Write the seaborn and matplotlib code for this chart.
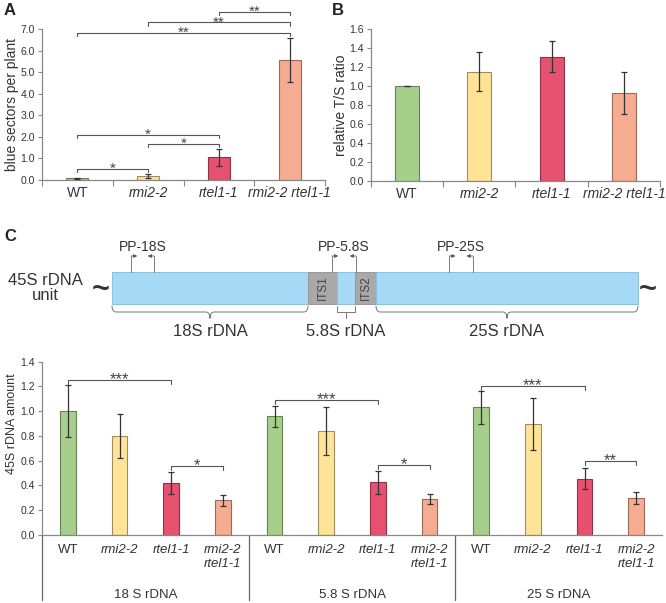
import numpy as np
import pandas as pd
import matplotlib.pyplot as plt
import matplotlib.colors as mcolors
import matplotlib.transforms as mtransforms
from matplotlib.patches import Rectangle, PathPatch
from matplotlib.path import Path
from matplotlib.ticker import FormatStrFormatter
import seaborn as sns

sns.set_style("white")
plt.rcParams["font.family"] = ["Liberation Sans", "DejaVu Sans"]
plt.rcParams["text.color"] = "#333333"
plt.rcParams["axes.labelcolor"] = "#333333"
plt.rcParams["xtick.color"] = "#333333"
plt.rcParams["ytick.color"] = "#333333"

# --------------------------------------
# DATA
# --------------------------------------
genotypes = ["WT", "rmi2-2", "rtel1-1", "rmi2-2 rtel1-1"]
geno_colors = ["#A6CF8B", "#FFE498", "#E5516E", "#F5AC91"]

# A: blue sectors per plant
sectors_mean = [0.07, 0.17, 1.05, 5.58]
sectors_err = [0.04, 0.10, 0.41, 1.02]
sectors_sig = [(0, 1, "*", 0.51), (1, 2, "*", 1.69), (0, 2, "*", 2.10),
               (0, 3, "**", 6.82), (1, 3, "**", 7.31), (2, 3, "**", 7.80)]

# B: relative T/S ratio
ts_mean = [1.00, 1.15, 1.31, 0.93]
ts_err = [0.005, 0.205, 0.165, 0.22]

# C: 45S rDNA amount
regions = ["18 S rDNA", "5.8 S rDNA", "25 S rDNA"]
rdna_18s_mean = [1.00, 0.80, 0.42, 0.28]
rdna_18s_err = [0.21, 0.18, 0.085, 0.047]
rdna_58s_mean = [0.96, 0.84, 0.425, 0.29]
rdna_58s_err = [0.085, 0.19, 0.095, 0.04]
rdna_25s_mean = [1.03, 0.90, 0.455, 0.30]
rdna_25s_err = [0.13, 0.21, 0.083, 0.046]
rdna_sig = [(0, 2, "***", 1.252), (2, 3, "*", 0.56),
            (4, 6, "***", 1.09), (6, 7, "*", 0.565),
            (8, 10, "***", 1.206), (10, 11, "**", 0.595)]

# 45S unit scheme (fraction of unit length)
unit_segments = [("18S", 0.0, 0.3726), ("ITS1", 0.3726, 0.4278),
                 ("5.8S", 0.4278, 0.4620), ("ITS2", 0.4620, 0.5019),
                 ("25S", 0.5019, 1.0)]
primers = [("PP-18S", 0.036, 0.080), ("PP-5.8S", 0.418, 0.464),
           ("PP-25S", 0.641, 0.686)]

palette = dict(zip(genotypes, geno_colors))
GREY = "#888888"
DARK = "#333333"


def draw_bars(ax, df, xcol, order, width, capsize):
    sns.barplot(data=df, x=xcol, y="mean", hue="genotype", order=order,
                hue_order=genotypes, palette=palette, dodge=False, width=width,
                errorbar=None, legend=False, linewidth=0.8, ax=ax, saturation=1)
    for p in ax.patches:
        fc = np.array(mcolors.to_rgb(p.get_facecolor()))
        p.set_edgecolor(fc * 0.62)
    pos = [order.index(v) for v in df[xcol]]
    ax.errorbar(pos, df["mean"], yerr=df["err"], fmt="none", ecolor=DARK,
                elinewidth=0.9, capsize=capsize, capthick=0.9, zorder=5)
    ax.set_xlabel("")
    for s in ["top", "right"]:
        ax.spines[s].set_visible(False)
    for s in ["left", "bottom"]:
        ax.spines[s].set_color(GREY)
        ax.spines[s].set_linewidth(0.9)


def bracket(ax, x1, x2, y, h, label, fs):
    ax.plot([x1, x1, x2, x2], [y - h, y, y, y - h], color="#555555",
            lw=0.8, clip_on=False)
    ax.annotate(label, xy=((x1 + x2) / 2, y), xytext=(0, -3),
                textcoords="offset points", ha="center", va="baseline",
                fontsize=fs, color="#444444", annotation_clip=False)


def italic_labels(ax):
    for lbl in ax.get_xticklabels():
        if lbl.get_text() != "WT":
            lbl.set_fontstyle("italic")


fig = plt.figure(figsize=(6.66, 6.03), dpi=100)

# --------------------------------------
# A
# --------------------------------------
axA = fig.add_axes([0.0631, 0.7015, 0.4249, 0.2504])
dfA = pd.DataFrame({"genotype": genotypes, "mean": sectors_mean, "err": sectors_err})
draw_bars(axA, dfA, "genotype", genotypes, 0.31, 2.5)
axA.set_ylim(0, 7)
axA.set_xlim(-0.5, 3.5)
axA.set_yticks(np.arange(0, 7.01, 1.0))
axA.yaxis.set_major_formatter(FormatStrFormatter("%.1f"))
axA.set_xticks(range(4))
axA.set_xticklabels(genotypes)
axA.set_xticks(np.arange(-0.5, 4, 1), minor=True)
axA.tick_params(axis="x", which="major", length=0, pad=4, labelsize=10)
axA.tick_params(axis="x", which="minor", bottom=True, length=4, color=GREY, width=0.8)
axA.tick_params(axis="y", left=True, length=3, color=GREY, width=0.8, labelsize=7.5, pad=2)
axA.set_ylabel("blue sectors per plant", fontsize=10)
axA.yaxis.set_label_coords(-0.08, 0.5)
italic_labels(axA)
for i, j, lab, y in sectors_sig:
    bracket(axA, i, j, y, 0.15, lab, 11)

# --------------------------------------
# B
# --------------------------------------
axB = fig.add_axes([0.557, 0.6998, 0.434, 0.2521])
dfB = pd.DataFrame({"genotype": genotypes, "mean": ts_mean, "err": ts_err})
draw_bars(axB, dfB, "genotype", genotypes, 0.33, 2.5)
axB.set_ylim(0, 1.6)
axB.set_xlim(-0.5, 3.5)
axB.set_yticks(np.arange(0, 1.61, 0.2))
axB.yaxis.set_major_formatter(FormatStrFormatter("%.1f"))
axB.set_xticks(range(4))
axB.set_xticklabels(genotypes)
axB.set_xticks(np.arange(-0.5, 4, 1), minor=True)
axB.tick_params(axis="x", which="major", length=0, pad=4, labelsize=10)
axB.tick_params(axis="x", which="minor", bottom=True, length=4, color=GREY, width=0.8)
axB.tick_params(axis="y", left=True, length=3, color=GREY, width=0.8, labelsize=7.5, pad=2)
axB.set_ylabel("relative T/S ratio", fontsize=10)
axB.yaxis.set_label_coords(-0.078, 0.5)
italic_labels(axB)

# --------------------------------------
# C - scheme of the 45S unit
# --------------------------------------
axD = fig.add_axes([112 / 666, 1 - 304 / 603, 526 / 666, 32 / 603])
axD.set_xlim(0, 1)
axD.set_ylim(0, 1)
axD.axis("off")
for name, a, b in unit_segments:
    its = name.startswith("ITS")
    axD.add_patch(Rectangle((a, 0), b - a, 1, facecolor="#A9A9A9" if its else "#A6D9F5",
                            edgecolor="#9A9A9A" if its else "#8DBFDC", lw=0.7, clip_on=False))
    if its:
        axD.text((a + b) / 2, 0.5, name, rotation=90, ha="center", va="center",
                 fontsize=8.5, color="#444444")
    else:
        c = (a + b) / 2
        y0, ym, yt, r = -0.05, -0.25, -0.45, 0.008
        if b - a > 0.1:
            verts = [(a, y0), (a, ym), (a + r, ym), (c - r, ym), (c, ym), (c, yt),
                     (c, ym), (c + r, ym), (b - r, ym), (b, ym), (b, y0)]
            codes = [Path.MOVETO, Path.CURVE3, Path.CURVE3, Path.LINETO, Path.CURVE3,
                     Path.CURVE3, Path.CURVE3, Path.CURVE3, Path.LINETO, Path.CURVE3,
                     Path.CURVE3]
            axD.add_patch(PathPatch(Path(verts, codes), fc="none", ec="#777777",
                                    lw=0.7, clip_on=False))
        else:
            axD.plot([a, a, b, b], [y0, ym, ym, y0], color="#777777", lw=0.7, clip_on=False)
            axD.plot([c, c], [ym, yt], color="#777777", lw=0.7, clip_on=False)
        axD.text(c, -0.875, f"{name} rDNA", ha="center", va="center", fontsize=12)

for name, fwd, rev in primers:
    for x, d in [(fwd, 1), (rev, -1)]:
        axD.plot([x, x], [1, 1.5], color="#666666", lw=0.6, clip_on=False)
        axD.annotate("", xy=(x + d * 0.012, 1.5), xytext=(x, 1.5),
                     arrowprops=dict(arrowstyle="-|>", lw=0.6, color="#555555",
                                     mutation_scale=5, shrinkA=0, shrinkB=0),
                     annotation_clip=False)
    axD.text((fwd + rev) / 2, 1.78, name, ha="center", va="center", fontsize=10)

axD.text(-0.021, 0.44, "~", fontsize=22, fontweight="bold", ha="center", va="center")
axD.text(1.019, 0.44, "~", fontsize=22, fontweight="bold", ha="center", va="center")
axD.text(-0.127, 0.5, "45S rDNA\nunit", ha="center", va="center", fontsize=12,
         linespacing=1.05)

# --------------------------------------
# C - rDNA amounts
# --------------------------------------
axC = fig.add_axes([0.0631, 0.1128, 0.9309, 0.2874])
rows = []
for reg, means, errs in zip(regions, [rdna_18s_mean, rdna_58s_mean, rdna_25s_mean],
                            [rdna_18s_err, rdna_58s_err, rdna_25s_err]):
    for g, m, e in zip(genotypes, means, errs):
        rows.append({"slot": f"{reg}|{g}", "region": reg, "genotype": g, "mean": m, "err": e})
dfC = pd.DataFrame(rows)
slots = list(dfC["slot"])
draw_bars(axC, dfC, "slot", slots, 0.3, 2.2)
axC.set_ylim(0, 1.4)
axC.set_xlim(-0.5, len(slots) - 0.5)
axC.set_yticks(np.arange(0, 1.41, 0.2))
axC.yaxis.set_major_formatter(FormatStrFormatter("%.1f"))
axC.set_xticks(range(len(slots)))
axC.set_xticklabels([g.replace(" ", "\n") for g in dfC["genotype"]])
axC.tick_params(axis="x", length=0, pad=6.5, labelsize=9.5)
axC.tick_params(axis="y", left=True, length=3, color=GREY, width=0.8, labelsize=7.5, pad=2)
axC.set_ylabel("45S rDNA amount", fontsize=9)
axC.yaxis.set_label_coords(-0.039, 0.64)
italic_labels(axC)

trans = mtransforms.blended_transform_factory(axC.transData, axC.transAxes)
for k in range(len(regions)):
    xs = k * 4 - 0.5
    axC.plot([xs, xs], [0, -0.375], transform=trans, color="#666666", lw=0.9, clip_on=False)
    axC.text(k * 4 + 1.5, -0.345, regions[k], transform=trans, ha="center",
             va="center", fontsize=9.5)
for i, j, lab, y in rdna_sig:
    bracket(axC, i, j, y, 0.032, lab, 12)

# panel letters
fig.text(4 / 666, 1 - 15 / 603, "A", fontsize=12, fontweight="bold", color="#222222")
fig.text(332 / 666, 1 - 15 / 603, "B", fontsize=12, fontweight="bold", color="#222222")
fig.text(4 / 666, 1 - 241 / 603, "C", fontsize=12, fontweight="bold", color="#222222")

fig.savefig("out.png", dpi=100)
